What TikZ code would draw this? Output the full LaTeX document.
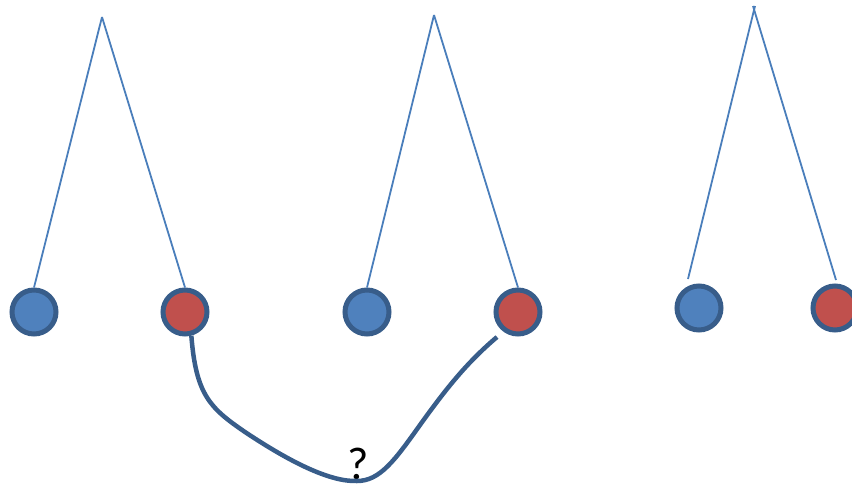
\documentclass[tikz,border=0pt]{standalone}
\usepackage{fontspec}
\setmainfont{Carlito}
\usetikzlibrary{arrows.meta, positioning}
\definecolor{leafblue}{RGB}{79, 129, 189}
\definecolor{leafred}{RGB}{192, 80, 77}
\definecolor{leafedge}{RGB}{56, 93, 138}
\definecolor{branchblue}{RGB}{74, 126, 187}

\tikzset{
    leaf/.style={circle, draw=leafedge, line width=5pt, minimum size=44pt, inner sep=0pt},
    branch/.style={branchblue, line width=1.8pt},
}

\begin{document}
\begin{tikzpicture}[x=1pt, y=-1pt]
    \useasboundingbox (0,0) rectangle (852,485);
    \clip (0,0) rectangle (852,485);
    % apexes
    \coordinate (top1) at (102,17);
    \coordinate (top2) at (434,15);
    % leaves
    \node[leaf, fill=leafblue] (blue1) at (34,312) {};
    \node[leaf, fill=leafred] (red1) at (185,312) {};
    \node[leaf, fill=leafblue] (blue2) at (367,312) {};
    \node[leaf, fill=leafred] (red2) at (518,312) {};
    \node[leaf, fill=leafblue] (blue3) at (699,308) {};
    \node[leaf, fill=leafred] (red3) at (835,308) {};
    % loose ends of the third tree
    \coordinate (end3l) at (688,279);
    \coordinate (end3r) at (836,280);
    \coordinate (over3l) at (755,6);
    \coordinate (over3r) at (753,6);
    \draw[branch] (top1) -- (blue1.north);
    \draw[branch] (top1) -- (red1.north);
    \draw[branch] (top2) -- (blue2.north);
    \draw[branch] (top2) -- (red2.north);
    \draw[branch] (end3l) -- (over3l);
    \draw[branch] (end3r) -- (over3r);
    % the link
    \coordinate (linkend) at (497,337);
    \node[anchor=base, font=\fontsize{46}{50}\selectfont, inner sep=0pt] (ask) at (358,479) {?};
    \draw[leafedge, line width=4.5pt] (red1.-75) .. controls (196,395) and (210,408) .. (245,432)
        .. controls (290,462) and (330,482) .. (357,481)
        .. controls (380,481) and (395,460) .. (420,425)
        .. controls (450,383) and (470,360) .. (linkend);
\end{tikzpicture}
\end{document}
